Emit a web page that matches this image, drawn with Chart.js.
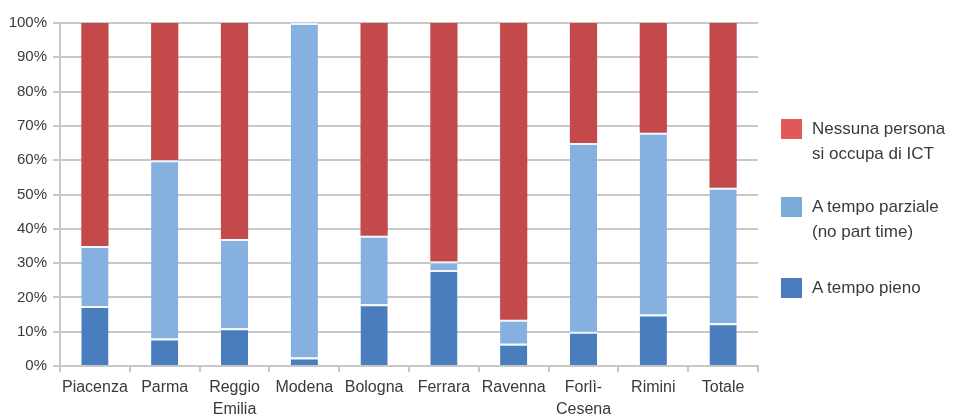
<!DOCTYPE html>
<html>
<head>
<meta charset="utf-8">
<script src="https://cdn.jsdelivr.net/npm/chart.js@4/dist/chart.umd.min.js"></script>
<style>
  html, body { margin: 0; padding: 0; background: #fff; }
  #wrap { position: relative; width: 955px; height: 419px; }
  #chart { position: absolute; left: 0; top: 0; }
  .leg { position: absolute; left: 781px; font-family: "Liberation Sans", Arial, sans-serif;
         font-size: 17px; color: #3a3a3a; line-height: 25px; }
  .leg .sw { position: absolute; left: 0; top: 0; width: 21px; height: 20px; }
  .leg .tx { position: absolute; left: 31px; top: -3px; white-space: nowrap; }
</style>
</head>
<body>
<div id="wrap">
  <canvas id="chart" width="955" height="419"></canvas>
  <div class="leg" style="top:119px"><div class="sw" style="background:#e05858"></div><div class="tx">Nessuna persona<br>si occupa di ICT</div></div>
  <div class="leg" style="top:197px"><div class="sw" style="background:#7aacd9"></div><div class="tx">A tempo parziale<br>(no part time)</div></div>
  <div class="leg" style="top:278px"><div class="sw" style="background:#4a7cbd"></div><div class="tx">A tempo pieno</div></div>
</div>
<script>
// Province categories (multi-line labels where the name wraps)
const categories = ["Piacenza", "Parma", ["Reggio", "Emilia"], "Modena", "Bologna", "Ferrara", "Ravenna", ["Forlì-", "Cesena"], "Rimini", "Totale"];

// Share of firms (%) by who handles ICT
const tempoPieno    = [17.5, 8,  11, 2.5, 18, 28,  6.5, 10, 15, 12.5];
const tempoParziale = [17.5, 52, 26, 97.5, 20, 2.5, 7,  55, 53, 39.5];
const nessuno       = [65,   40, 63, 0,   62, 69.5, 86.5, 35, 32, 48];

const yTicks = [0, 10, 20, 30, 40, 50, 60, 70, 80, 90, 100];

const grey = "#c8c8c8";
const family = "'Liberation Sans', Arial, sans-serif";

function ds(label, data, color, topBorder) {
  return {
    label, data,
    backgroundColor: color,
    borderColor: "rgba(240,246,255,0.95)",
    borderWidth: { top: topBorder, left: 0, right: 0, bottom: 0 },
    borderSkipped: false,
    barPercentage: 0.39,
    categoryPercentage: 1.0
  };
}

new Chart(document.getElementById("chart"), {
  type: "bar",
  data: {
    labels: categories,
    datasets: [
      ds("A tempo pieno", tempoPieno, "#4a7dbd", 2),
      ds("A tempo parziale (no part time)", tempoParziale, "#86b0e0", 2),
      ds("Nessuna persona si occupa di ICT", nessuno, "#c4494a", 0)
    ]
  },
  options: {
    responsive: false,
    animation: false,
    layout: { padding: { top: 23, right: 197, left: 0, bottom: 0 } },
    plugins: { legend: { display: false }, tooltip: { enabled: false } },
    scales: {
      x: {
        stacked: true,
        offset: true,
        grid: {
          offset: true,
          drawOnChartArea: true,
          color: ctx => ctx.index === categories.length ? grey : "rgba(0,0,0,0)",
          tickColor: grey,
          tickLength: 6,
          lineWidth: 2
        },
        border: { color: grey, width: 2 },
        ticks: { color: "#3a3a3a", font: { family, size: 16, lineHeight: 1.35 }, padding: 5, maxRotation: 0, autoSkip: false },
        afterFit: s => { s.height = 53; }
      },
      y: {
        stacked: true,
        min: 0, max: 100,
        afterBuildTicks: s => { s.ticks = yTicks.map(v => ({ value: v })); },
        grid: { color: grey, lineWidth: 2, tickLength: 7, tickColor: grey },
        border: { color: grey, width: 2 },
        ticks: { color: "#3a3a3a", font: { family, size: 15 }, padding: 6, callback: v => v + "%" },
        afterFit: s => { s.width = 60; }
      }
    }
  }
});
</script>
</body>
</html>
